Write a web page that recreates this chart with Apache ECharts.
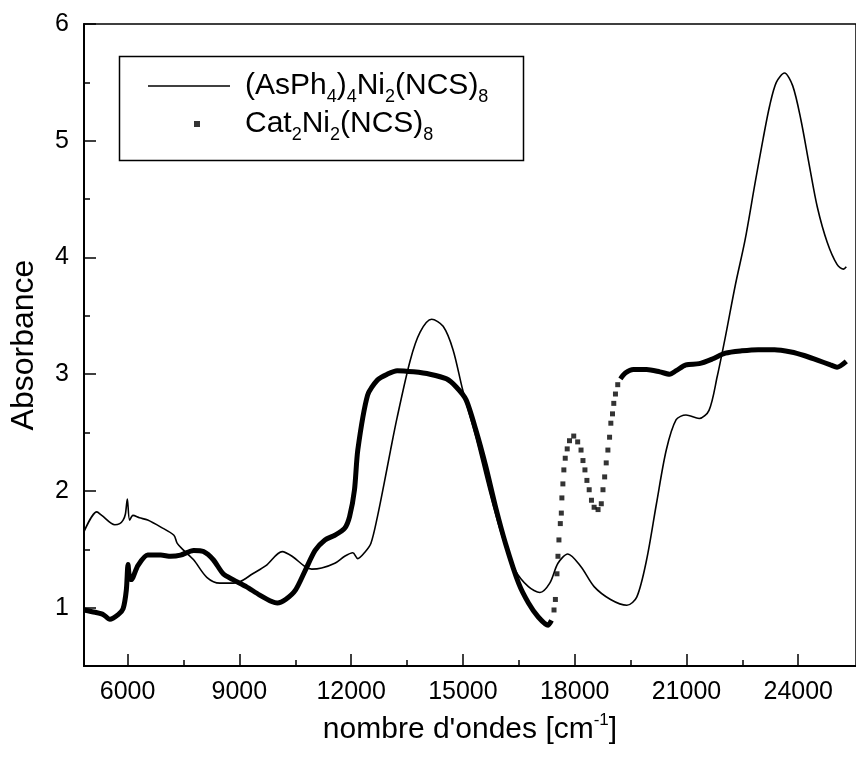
<!DOCTYPE html>
<html>
<head>
<meta charset="utf-8">
<script src="https://cdn.jsdelivr.net/npm/echarts@6/dist/echarts.min.js"></script>
<style>
html,body{margin:0;padding:0;background:#fff;}
#chart{width:856px;height:757px;}
</style>
</head>
<body>
<div id="chart"></div>
<script>
// ---- data ----
const nameA = '(AsPh4)4Ni2(NCS)8';
const nameB = 'Cat2Ni2(NCS)8';

const xMajorTicks = [6000, 9000, 12000, 15000, 18000, 21000, 24000];
const xMinorTicks = [7500, 10500, 13500, 16500, 19500, 22500];
const yMajorTicks = [1, 2, 3, 4, 5, 6];
const yMinorTicks = [1.5, 2.5, 3.5, 4.5, 5.5];

const asphWavenumber = [4830,5174,5306,5657,5789,5879,5940,5993,6054,6144,6318,6540,6892,7243,7333,7507,7772,8126,8477,8742,9006,9358,9712,10150,10415,10769,10943,11208,11562,11826,12045,12178,12355,12529,12706,12883,13058,13235,13587,13851,14160,14469,14734,14998,15349,15701,16055,16406,16758,17067,17331,17551,17815,18169,18521,18962,19401,19665,19930,20194,20458,20723,20987,21341,21605,21825,22044,22309,22573,22837,23059,23233,23411,23630,23852,24071,24291,24513,24777,25041,25216,25290];
const asphAbsorbance = [1.65,1.82,1.79,1.71,1.72,1.75,1.80,1.93,1.75,1.79,1.77,1.75,1.69,1.62,1.55,1.49,1.41,1.26,1.21,1.21,1.22,1.29,1.36,1.48,1.44,1.35,1.33,1.34,1.38,1.44,1.47,1.42,1.47,1.55,1.78,2.06,2.35,2.63,3.12,3.36,3.47,3.41,3.21,2.86,2.46,2.01,1.61,1.32,1.18,1.13,1.21,1.38,1.46,1.35,1.18,1.07,1.02,1.09,1.41,1.89,2.35,2.61,2.65,2.62,2.69,2.98,3.32,3.76,4.15,4.63,5.02,5.30,5.50,5.58,5.47,5.18,4.80,4.43,4.13,3.94,3.90,3.92];

// Cat2Ni2(NCS)8 : dense part (low wavenumber)
const catWavenumber1 = [4830,5129,5351,5525,5747,5879,5966,6011,6046,6099,6276,6540,6892,7156,7420,7772,8036,8300,8565,8829,9183,9535,9886,10018,10240,10505,10769,11033,11297,11562,11826,11958,12090,12178,12442,12706,12970,13235,13676,14115,14556,14821,15085,15349,15614,15878,16143,16494,16759,17022,17287,17377];
const catAbsorbance1 = [0.98,0.96,0.94,0.90,0.94,0.99,1.15,1.37,1.27,1.24,1.36,1.45,1.45,1.44,1.45,1.49,1.48,1.41,1.29,1.24,1.18,1.11,1.05,1.04,1.07,1.15,1.32,1.49,1.58,1.62,1.68,1.78,2.01,2.35,2.82,2.95,3.00,3.03,3.02,3.00,2.96,2.89,2.78,2.52,2.21,1.86,1.55,1.21,1.04,0.92,0.85,0.89];
// sparse (visible single points) part
const catWavenumberDots = [17445,17482,17524,17551,17577,17614,17641,17656,17683,17709,17746,17799,17860,17974,18080,18170,18222,18275,18328,18389,18450,18521,18627,18714,18759,18804,18846,18891,18936,18970,19015,19049,19094,19155];
const catAbsorbanceDots = [0.98,1.07,1.29,1.44,1.58,1.72,1.81,1.94,2.06,2.18,2.28,2.36,2.43,2.47,2.42,2.35,2.26,2.18,2.09,2.01,1.92,1.86,1.84,1.89,2.01,2.12,2.24,2.35,2.46,2.58,2.66,2.75,2.83,2.91];
// dense part (high wavenumber)
const catWavenumber2 = [19227,19358,19578,19930,20284,20548,20723,20987,21341,21693,22044,22485,22926,23365,23807,24158,24513,24864,25041,25290];
const catAbsorbance2 = [2.96,3.01,3.04,3.04,3.02,3.00,3.03,3.08,3.09,3.13,3.18,3.20,3.21,3.21,3.19,3.16,3.12,3.08,3.06,3.11];

const pair = (xs, ys) => xs.map((x, i) => [x, ys[i]]);

const richNames = {};
richNames[nameA] = '(AsPh{s|4}){s|4}Ni{s|2}(NCS){s|8}';
richNames[nameB] = 'Cat{s|2}Ni{s|2}(NCS){s|8}';

const FONT = '"Liberation Sans", Arial, sans-serif';
const NARROW = '"Liberation Sans Narrow", "Arial Narrow", "Liberation Sans", Arial, sans-serif';

const legendText = {
  color: '#000', fontFamily: FONT, fontSize: 30, lineHeight: 40,
  rich: {
    s: { fontFamily: FONT, fontSize: 18, color: '#000', verticalAlign: 'bottom', lineHeight: 20 }
  }
};

const chart = echarts.init(document.getElementById('chart'), null, { renderer: 'canvas' });
const option = {
  animation: false,
  backgroundColor: '#ffffff',
  grid: { left: 82, top: 24, width: 784, height: 642, show: true, borderColor: '#000', borderWidth: 1.5, backgroundColor: 'transparent' },
  xAxis: [
    {
      type: 'value', min: 4830, max: 25550,
      axisLine: { onZero: false, lineStyle: { color: '#000', width: 2 } },
      axisTick: { inside: true, length: 12, customValues: xMajorTicks, lineStyle: { color: '#000', width: 1.5 } },
      axisLabel: { customValues: xMajorTicks, formatter: v => String(v), color: '#000', fontFamily: NARROW, fontSize: 25, margin: 14 },
      splitLine: { show: false },
      name: 'nombre d\'ondes [cm{sup|-1}]',
      nameLocation: 'middle', nameGap: 46,
      nameTextStyle: {
        color: '#000', fontFamily: FONT, fontSize: 30, lineHeight: 36,
        rich: { sup: { fontFamily: FONT, fontSize: 17, color: '#000', verticalAlign: 'top', lineHeight: 18 } }
      }
    },
    {
      type: 'value', min: 4830, max: 25550, position: 'bottom',
      axisLine: { show: false },
      axisTick: { inside: true, length: 6, customValues: xMinorTicks, lineStyle: { color: '#000', width: 1.5 } },
      axisLabel: { show: false },
      splitLine: { show: false }
    }
  ],
  yAxis: [
    {
      type: 'value', min: 0.5, max: 6,
      axisLine: { onZero: false, lineStyle: { color: '#000', width: 2 } },
      axisTick: { inside: true, length: 12, customValues: yMajorTicks, lineStyle: { color: '#000', width: 1.5 } },
      axisLabel: { customValues: yMajorTicks, formatter: v => String(v), color: '#000', fontFamily: NARROW, fontSize: 25, margin: 15 },
      splitLine: { show: false },
      name: 'Absorbance',
      nameLocation: 'middle', nameGap: 44,
      nameTextStyle: { color: '#000', fontFamily: FONT, fontSize: 32 }
    },
    {
      type: 'value', min: 0.5, max: 6, position: 'left',
      axisLine: { show: false },
      axisTick: { inside: true, length: 6, customValues: yMinorTicks, lineStyle: { color: '#000', width: 1.5 } },
      axisLabel: { show: false },
      splitLine: { show: false }
    }
  ],
  legend: [
    {
      data: [{ name: nameA, icon: 'path://M0,0L82,0L82,1.6L0,1.6Z' }],
      left: 148, top: 66, orient: 'vertical', padding: 0,
      itemWidth: 82, itemHeight: 14, selectedMode: false,
      formatter: n => richNames[n],
      textStyle: Object.assign({ padding: [0, 0, 0, 10] }, legendText)
    },
    {
      data: [{ name: nameB, icon: 'rect' }],
      left: 194, top: 104, orient: 'vertical', padding: 0,
      itemWidth: 6, itemHeight: 6, selectedMode: false,
      formatter: n => richNames[n],
      textStyle: Object.assign({ padding: [0, 0, 0, 40] }, legendText)
    }
  ],
  graphic: [
    { type: 'rect', left: 117, top: 54, shape: { width: 404, height: 104 },
      style: { fill: 'none', stroke: '#000', lineWidth: 1.5 }, silent: true }
  ],
  series: [
    {
      name: nameA, type: 'line', xAxisIndex: 0, yAxisIndex: 0,
      data: pair(asphWavenumber, asphAbsorbance),
      symbol: 'none', smooth: 0.3,
      lineStyle: { color: '#000', width: 1.6 }, itemStyle: { color: '#000' }
    },
    {
      name: nameB, type: 'scatter', xAxisIndex: 0, yAxisIndex: 0,
      data: pair(catWavenumberDots, catAbsorbanceDots),
      symbol: 'rect', symbolSize: 5,
      itemStyle: { color: '#000' }
    },
    {
      name: nameB, type: 'line', xAxisIndex: 0, yAxisIndex: 0,
      data: pair(catWavenumber1, catAbsorbance1),
      symbol: 'none', smooth: 0.25,
      lineStyle: { color: '#000', width: 5 }, itemStyle: { color: '#000' }
    },
    {
      name: nameB, type: 'line', xAxisIndex: 0, yAxisIndex: 0,
      data: pair(catWavenumber2, catAbsorbance2),
      symbol: 'none', smooth: 0.25,
      lineStyle: { color: '#000', width: 5 }, itemStyle: { color: '#000' }
    }
  ]
};
chart.setOption(option);
</script>
</body>
</html>
